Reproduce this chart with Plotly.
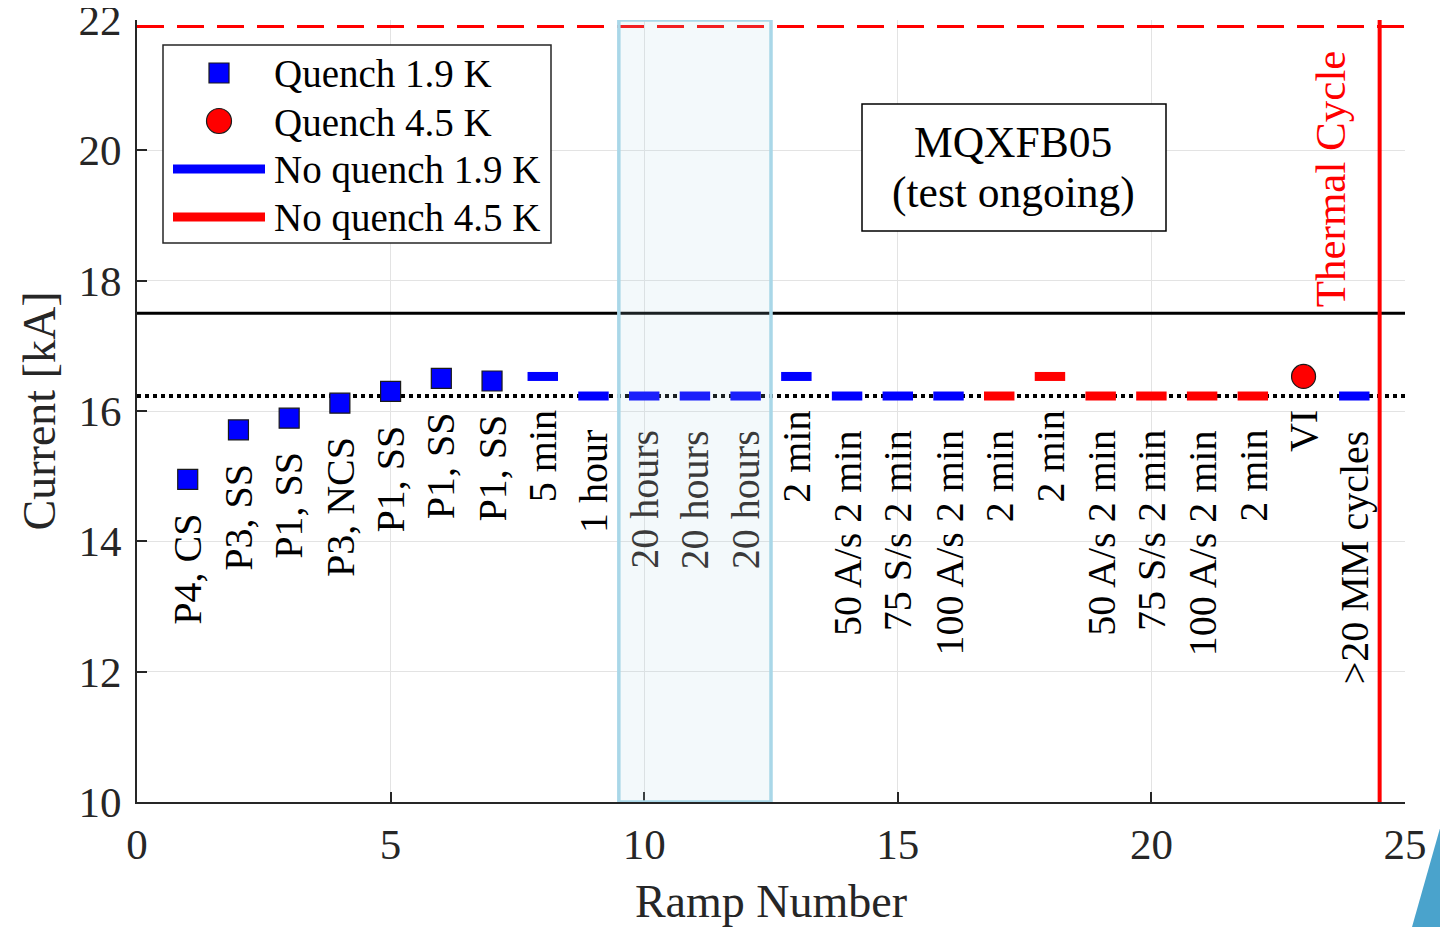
import plotly.graph_objects as go

# ---------------- data ----------------
ramp = list(range(1, 25))
current_kA = [14.95, 15.71, 15.89, 16.12, 16.30, 16.50, 16.46, 16.53, 16.23, 16.23, 16.23, 16.23,
              16.53, 16.23, 16.23, 16.23, 16.23, 16.53, 16.23, 16.23, 16.23, 16.23, 16.53, 16.23]
quenched = [True] * 7 + [False] * 15 + [True, False]
temperature_K = [1.9] * 16 + [4.5] * 7 + [1.9]
ramp_labels = ["P4, CS", "P3, SS", "P1, SS", "P3, NCS", "P1, SS", "P1, SS", "P1, SS",
               "5 min", "1 hour", "20 hours", "20 hours", "20 hours", "2 min",
               "50 A/s 2 min", "75 S/s 2 min", "100 A/s 2 min", "2 min", "2 min",
               "50 A/s 2 min", "75 S/s 2 min", "100 A/s 2 min", "2 min", "VI", ">20 MM cycles"]
series_names = ["Quench 1.9 K", "Quench 4.5 K", "No quench 1.9 K", "No quench 4.5 K"]

nominal_kA = 16.23
ultimate_kA = 17.5
limit_kA = 21.9
thermal_cycle_ramp = 24.5
hold_window = [9.5, 12.5]

x_ticks = [0, 5, 10, 15, 20, 25]
y_ticks = [10, 12, 14, 16, 18, 20, 22]

# ---------------- styling ----------------
FONT = "Liberation Serif"
TXT = "#262626"
HALF = 0.3  # half-width of the "no quench" bars
BLUE, RED = "#0000ff", "#ff0000"
OFF = 8  # default page body margin
W, H = 1448 - OFF, 927 - OFF
ML, MR, MT, MB = 137 - OFF, 43, 20 - OFF, 125
PW, PH = W - ML - MR, H - MT - MB


def px(x):  # screen pixel -> paper x
    return (x - OFF - ML) / PW


def py(y):  # screen pixel -> paper y
    return (H - MB - (y - OFF)) / PH


def pick(q, t):
    return [i for i in range(len(ramp)) if quenched[i] == q and temperature_K[i] == t]


def segments(idx):
    xs, ys = [], []
    for i in idx:
        xs += [ramp[i] - HALF, ramp[i] + HALF, None]
        ys += [current_kA[i], current_kA[i], None]
    return xs, ys


fig = go.Figure()

q19 = pick(True, 1.9)
fig.add_trace(go.Scatter(x=[ramp[i] for i in q19], y=[current_kA[i] for i in q19],
                         mode="markers", name=series_names[0], showlegend=False,
                         marker=dict(symbol="square", size=20, color=BLUE,
                                     line=dict(color="#1a1a1a", width=1.2))))
q45 = pick(True, 4.5)
fig.add_trace(go.Scatter(x=[ramp[i] for i in q45], y=[current_kA[i] for i in q45],
                         mode="markers", name=series_names[1], showlegend=False,
                         marker=dict(symbol="circle", size=24, color=RED,
                                     line=dict(color="#1a1a1a", width=1.2))))
sx, sy = segments(pick(False, 1.9))
fig.add_trace(go.Scatter(x=sx, y=sy, mode="lines", name=series_names[2], showlegend=False,
                         line=dict(color=BLUE, width=9)))
sx, sy = segments(pick(False, 4.5))
fig.add_trace(go.Scatter(x=sx, y=sy, mode="lines", name=series_names[3], showlegend=False,
                         line=dict(color=RED, width=9)))

# reference lines
fig.add_shape(type="line", xref="x", yref="y", x0=x_ticks[0], x1=x_ticks[-1],
              y0=nominal_kA, y1=nominal_kA, layer="below",
              line=dict(color="black", width=4, dash="4px,4px"))
fig.add_shape(type="line", xref="x", yref="y", x0=x_ticks[0], x1=x_ticks[-1],
              y0=ultimate_kA, y1=ultimate_kA, layer="above",
              line=dict(color="black", width=3))
fig.add_shape(type="line", xref="x", yref="y", x0=x_ticks[0], x1=x_ticks[-1],
              y0=limit_kA, y1=limit_kA, layer="above",
              line=dict(color=RED, width=3, dash="27px,13px"))
fig.add_shape(type="line", xref="x", yref="y", x0=thermal_cycle_ramp, x1=thermal_cycle_ramp,
              y0=y_ticks[0], y1=y_ticks[-1], layer="above",
              line=dict(color=RED, width=4))
# hold window
fig.add_shape(type="rect", xref="x", yref="y", x0=hold_window[0], x1=hold_window[1],
              y0=y_ticks[0], y1=y_ticks[-1], layer="above",
              fillcolor="rgba(173,216,230,0.15)", line=dict(color="#a9d7e8", width=3.5))

# ramp labels
for i in range(len(ramp)):
    inside = hold_window[0] <= ramp[i] <= hold_window[1]
    fig.add_annotation(x=ramp[i], y=current_kA[i], text=ramp_labels[i], textangle=-90,
                       showarrow=False, xanchor="center", yanchor="top", yshift=-32,
                       font=dict(family=FONT, size=40,
                                 color="#3a3a3a" if inside else "black"))

# info box
fig.add_shape(type="rect", xref="paper", yref="paper", x0=px(862), x1=px(1166),
              y0=py(231), y1=py(104), fillcolor="white", layer="above",
              line=dict(color="black", width=1.5))
for txt, yc in [("MQXFB05", 142), ("(test ongoing)", 192)]:
    fig.add_annotation(x=px(1013), y=py(yc), xref="paper", yref="paper", text=txt,
                       showarrow=False, xanchor="center", yanchor="middle",
                       font=dict(family=FONT, size=43.5, color="black"))
fig.add_annotation(x=23.52, y=19.57, xref="x", yref="y", text="Thermal Cycle",
                   textangle=-90, showarrow=False,
                   font=dict(family=FONT, size=43, color=RED))

# ---------------- legend (drawn box) ----------------
fig.add_shape(type="rect", xref="paper", yref="paper", x0=px(163), x1=px(551),
              y0=py(243), y1=py(45), fillcolor="white", layer="above",
              line=dict(color=TXT, width=1.5))
rows = [73, 121, 169, 217]
fig.add_shape(type="rect", xref="paper", yref="paper", x0=px(209), x1=px(229),
              y0=py(rows[0] + 10), y1=py(rows[0] - 10), fillcolor=BLUE, layer="above",
              line=dict(color="#1a1a1a", width=1.2))
fig.add_shape(type="circle", xref="paper", yref="paper", x0=px(206.5), x1=px(231.5),
              y0=py(rows[1] + 12.5), y1=py(rows[1] - 12.5), fillcolor=RED, layer="above",
              line=dict(color="#1a1a1a", width=1.2))
for r, c in zip(rows[2:], [BLUE, RED]):
    fig.add_shape(type="line", xref="paper", yref="paper", x0=px(173), x1=px(265),
                  y0=py(r), y1=py(r), layer="above", line=dict(color=c, width=9))
for r, name in zip(rows, series_names):
    fig.add_annotation(x=px(272), y=py(r + 1), xref="paper", yref="paper", text=name,
                       showarrow=False, xanchor="left", yanchor="middle",
                       font=dict(family=FONT, size=39, color="black"))

# slide decoration triangle in the corner
fig.add_shape(type="path", xref="paper", yref="paper",
              path=f"M {px(1448)} {py(800)} L {px(1448)} {py(927)} L {px(1412)} {py(927)} Z",
              fillcolor="#4aa3cc", line=dict(width=0), layer="above")

axis_common = dict(showline=True, linecolor=TXT, linewidth=2, ticks="inside", ticklen=10,
                   tickcolor=TXT, tickwidth=1.5, showgrid=True, gridcolor="#e3e3e3",
                   gridwidth=1, zeroline=False, mirror=False, automargin=False,
                   ticklabeloverflow="allow",
                   tickfont=dict(family=FONT, size=43, color=TXT))

fig.update_layout(
    width=W, height=H,
    margin=dict(l=ML, r=MR, t=MT, b=MB),
    paper_bgcolor="white", plot_bgcolor="white",
    showlegend=False,
    xaxis=dict(range=[x_ticks[0], x_ticks[-1]], tickvals=x_ticks, ticklabelstandoff=3,
               title=dict(text="Ramp Number", standoff=18,
                          font=dict(family=FONT, size=46, color=TXT)),
               **axis_common),
    yaxis=dict(range=[y_ticks[0], y_ticks[-1]], tickvals=y_ticks, ticklabelstandoff=5,
               title=dict(text="Current [kA]", standoff=8,
                          font=dict(family=FONT, size=46, color=TXT)),
               **axis_common),
)

fig.write_html("out.html")
